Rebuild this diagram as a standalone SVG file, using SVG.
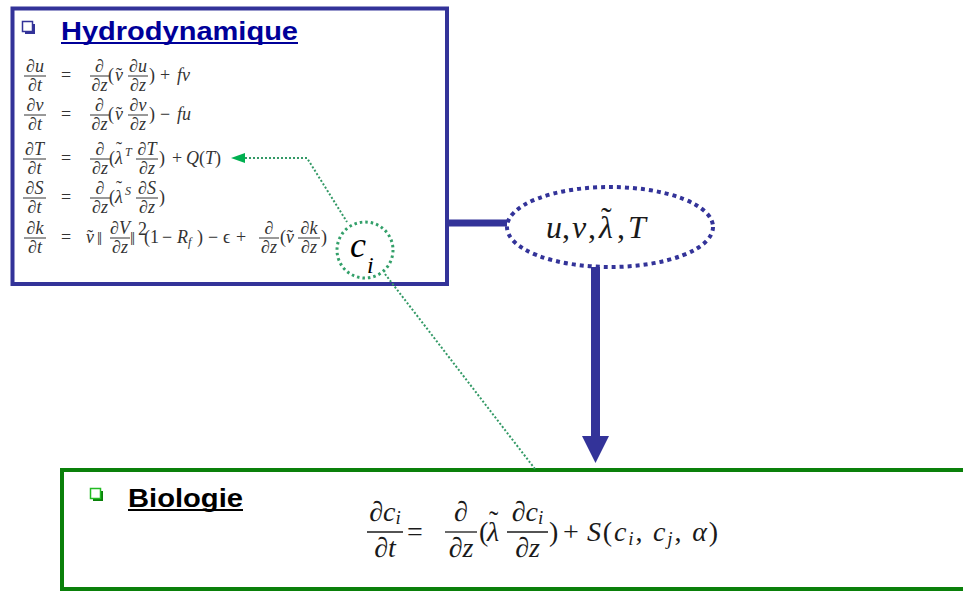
<svg xmlns="http://www.w3.org/2000/svg" width="963" height="592" viewBox="0 0 963 592">
<style>
.m{font-family:"Liberation Serif","DejaVu Serif",serif;font-size:18px;fill:#333}
.b{font-family:"Liberation Serif","DejaVu Serif",serif;font-size:28px;fill:#1a1a1a}
.e{font-family:"Liberation Serif","DejaVu Serif",serif;font-size:32px;fill:#1a1a1a}
.i{font-style:italic}
.c{text-anchor:middle}
.s{font-size:12px}
.bar{stroke:#333;stroke-width:1}
.bbar{stroke:#1a1a1a;stroke-width:1.3}
.title{font-family:"Liberation Sans",Arial,sans-serif;font-weight:bold}
.dot{fill:none;stroke:#339966;stroke-width:2;stroke-dasharray:2 2}
</style>
<rect width="963" height="592" fill="#fff"/>

<g id="hydrodynamique">
<rect x="12.5" y="8.5" width="434.5" height="275.5" fill="#fff" stroke="#333399" stroke-width="4"/>
<rect x="25" y="24" width="10" height="10" fill="#333399"/>
<rect x="22.5" y="21.5" width="10" height="10" fill="#fff" stroke="#333399" stroke-width="1.5"/>
<text x="61" y="40" class="title" font-size="26" fill="#000099" textLength="237" lengthAdjust="spacingAndGlyphs">Hydrodynamique</text>
<rect x="61" y="42" width="237" height="2" fill="#000099"/>

<!-- row 1 -->
<g>
<line class="bar" x1="24" y1="76" x2="46" y2="76"/>
<text class="m c" x="35" y="72">∂<tspan class="i">u</tspan></text>
<text class="m c" x="35" y="91">∂<tspan class="i">t</tspan></text>
<text class="m c" x="66" y="81">=</text>
<line class="bar" x1="90" y1="76" x2="109" y2="76"/>
<text class="m c" x="99.5" y="72">∂</text>
<text class="m c" x="99.5" y="91">∂<tspan class="i">z</tspan></text>
<text class="m" x="108" y="81">(</text>
<text class="m i" x="115" y="81">v</text>
<text class="m" x="116" y="81">˜</text>
<line class="bar" x1="128" y1="76" x2="148" y2="76"/>
<text class="m c" x="138" y="72">∂<tspan class="i">u</tspan></text>
<text class="m c" x="138" y="91">∂<tspan class="i">z</tspan></text>
<text class="m" x="149" y="81">)</text>
<text class="m c" x="165" y="81">+</text>
<text class="m i" x="177" y="81">fv</text>
</g>

<!-- row 2 -->
<g>
<line class="bar" x1="24" y1="115" x2="46" y2="115"/>
<text class="m c" x="35" y="111">∂<tspan class="i">v</tspan></text>
<text class="m c" x="35" y="130">∂<tspan class="i">t</tspan></text>
<text class="m c" x="66" y="120">=</text>
<line class="bar" x1="90" y1="115" x2="109" y2="115"/>
<text class="m c" x="99.5" y="111">∂</text>
<text class="m c" x="99.5" y="130">∂<tspan class="i">z</tspan></text>
<text class="m" x="108" y="120">(</text>
<text class="m i" x="115" y="120">v</text>
<text class="m" x="116" y="120">˜</text>
<line class="bar" x1="128" y1="115" x2="148" y2="115"/>
<text class="m c" x="138" y="111">∂<tspan class="i">v</tspan></text>
<text class="m c" x="138" y="130">∂<tspan class="i">z</tspan></text>
<text class="m" x="149" y="120">)</text>
<text class="m c" x="165" y="120">−</text>
<text class="m i" x="177" y="120">fu</text>
</g>

<!-- row 3 -->
<g>
<line class="bar" x1="23" y1="159" x2="46" y2="159"/>
<text class="m c" x="34.5" y="155">∂<tspan class="i">T</tspan></text>
<text class="m c" x="34.5" y="174">∂<tspan class="i">t</tspan></text>
<text class="m c" x="66" y="164">=</text>
<line class="bar" x1="90" y1="159" x2="110" y2="159"/>
<text class="m c" x="100" y="155">∂</text>
<text class="m c" x="100" y="174">∂<tspan class="i">z</tspan></text>
<text class="m" x="109" y="164">(</text>
<text class="m i" x="115" y="164">λ</text>
<text class="m" x="116" y="155">˜</text>
<text class="m i s" x="125" y="156">T</text>
<line class="bar" x1="136" y1="159" x2="158" y2="159"/>
<text class="m c" x="147" y="155">∂<tspan class="i">T</tspan></text>
<text class="m c" x="147" y="174">∂<tspan class="i">z</tspan></text>
<text class="m" x="159" y="164">)</text>
<text class="m c" x="177" y="164">+</text>
<text class="m" x="186" y="164"><tspan class="i">Q</tspan>(<tspan class="i">T</tspan>)</text>
</g>

<!-- row 4 -->
<g>
<line class="bar" x1="23" y1="198" x2="46" y2="198"/>
<text class="m c" x="34.5" y="194">∂<tspan class="i">S</tspan></text>
<text class="m c" x="34.5" y="213">∂<tspan class="i">t</tspan></text>
<text class="m c" x="66" y="203">=</text>
<line class="bar" x1="90" y1="198" x2="110" y2="198"/>
<text class="m c" x="100" y="194">∂</text>
<text class="m c" x="100" y="213">∂<tspan class="i">z</tspan></text>
<text class="m" x="109" y="203">(</text>
<text class="m i" x="115" y="203">λ</text>
<text class="m" x="116" y="194">˜</text>
<text class="m i s" x="125" y="195">S</text>
<line class="bar" x1="136" y1="198" x2="158" y2="198"/>
<text class="m c" x="147" y="194">∂<tspan class="i">S</tspan></text>
<text class="m c" x="147" y="213">∂<tspan class="i">z</tspan></text>
<text class="m" x="159" y="203">)</text>
</g>

<!-- row 5 -->
<g>
<line class="bar" x1="24" y1="238" x2="46" y2="238"/>
<text class="m c" x="35" y="234">∂<tspan class="i">k</tspan></text>
<text class="m c" x="35" y="253">∂<tspan class="i">t</tspan></text>
<text class="m c" x="66" y="243">=</text>
<text class="m i" x="86" y="243">v</text>
<text class="m" x="87" y="243">˜</text>
<text class="m" x="97" y="245" font-size="22">‖</text>
<line class="bar" x1="110" y1="238" x2="130" y2="238"/>
<text class="m c" x="120" y="234">∂<tspan class="i">V</tspan></text>
<text class="m c" x="120" y="253">∂<tspan class="i">z</tspan></text>
<text class="m" x="130" y="245" font-size="22">‖</text>
<text class="m" x="138" y="235" font-size="10">2</text>
<text class="m" x="144" y="243">(1</text>
<text class="m c" x="167" y="243">−</text>
<text class="m" x="177" y="243"><tspan class="i">R</tspan><tspan class="i s" dy="3">f</tspan></text>
<text class="m" x="197" y="243">)</text>
<text class="m c" x="213" y="243">−</text>
<text class="m" x="223" y="243">ϵ</text>
<text class="m c" x="241" y="243">+</text>
<line class="bar" x1="259" y1="238" x2="279" y2="238"/>
<text class="m c" x="269" y="234">∂</text>
<text class="m c" x="269" y="253">∂<tspan class="i">z</tspan></text>
<text class="m" x="280" y="243">(</text>
<text class="m i" x="286" y="243">v</text>
<text class="m" x="287" y="243">˜</text>
<line class="bar" x1="298" y1="238" x2="320" y2="238"/>
<text class="m c" x="309" y="234">∂<tspan class="i">k</tspan></text>
<text class="m c" x="309" y="253">∂<tspan class="i">z</tspan></text>
<text class="m" x="321" y="243">)</text>
</g>
</g>

<g id="variables">
<ellipse cx="610" cy="227" rx="103" ry="40" fill="#fff" stroke="#333399" stroke-width="4" stroke-dasharray="4 4"/>
<text class="e i" x="546" y="238">u</text>
<text class="e" x="562" y="238">,</text>
<text class="e i" x="572" y="238">v</text>
<text class="e" x="588" y="238">,</text>
<text class="e i" x="599" y="238">λ</text>
<text class="e" x="601" y="229">˜</text>
<text class="e" x="617" y="238">,</text>
<text class="e i" x="628" y="238">T</text>
</g>

<g id="ci">
<circle cx="365" cy="250" r="28" fill="#fff" stroke="#33a06a" stroke-width="3" stroke-dasharray="2.5 3"/>
<text x="350" y="257" font-family="Liberation Serif, serif" font-style="italic" font-size="36" fill="#000">c</text>
<text x="367" y="273" font-family="Liberation Serif, serif" font-style="italic" font-size="24" fill="#000">i</text>
</g>

<g id="biologie">
<rect x="62" y="470" width="960" height="119" fill="none" stroke="#0a800a" stroke-width="4"/>
<rect x="93" y="491" width="10" height="10" fill="#0a800a"/>
<rect x="90.5" y="488.5" width="10" height="10" fill="#fff" stroke="#22bb22" stroke-width="1.5"/>
<text x="128" y="507" class="title" font-size="25" fill="#000" textLength="115" lengthAdjust="spacingAndGlyphs">Biologie</text>
<rect x="128" y="509" width="115" height="2" fill="#000"/>

<line class="bbar" x1="367" y1="532" x2="403" y2="532"/>
<text class="b c" x="385" y="521">∂<tspan class="i">c</tspan><tspan class="i" font-size="19" dy="3">i</tspan></text>
<text class="b c" x="385" y="557">∂<tspan class="i">t</tspan></text>
<text class="b c" x="415" y="541">=</text>
<line class="bbar" x1="445" y1="532" x2="477" y2="532"/>
<text class="b c" x="461" y="521">∂</text>
<text class="b c" x="461" y="557">∂<tspan class="i">z</tspan></text>
<text class="b" x="479" y="541">(</text>
<text class="b i" x="487" y="541">λ</text>
<text class="b" x="489" y="530">˜</text>
<line class="bbar" x1="507" y1="532" x2="548" y2="532"/>
<text class="b c" x="527.5" y="521">∂<tspan class="i">c</tspan><tspan class="i" font-size="19" dy="3">i</tspan></text>
<text class="b c" x="527.5" y="557">∂<tspan class="i">z</tspan></text>
<text class="b" x="549" y="541">)</text>
<text class="b c" x="571" y="541">+</text>
<text class="b" x="587" y="541" textLength="131" lengthAdjust="spacing"><tspan class="i">S</tspan>(<tspan class="i">c</tspan><tspan class="i" font-size="19" dy="4">i</tspan><tspan dy="-4">, </tspan><tspan class="i">c</tspan><tspan class="i" font-size="19" dy="4">j</tspan><tspan dy="-4">, </tspan><tspan class="i">α</tspan>)</text>
</g>

<g id="connectors">
<rect x="449" y="219.5" width="58" height="7" fill="#333399"/>
<rect x="591" y="267" width="9" height="170" fill="#333399"/>
<polygon points="582,436 609,436 595.5,463" fill="#333399"/>
<path class="dot" d="M245,158 H307 L347,222"/>
<path class="dot" d="M385,274 L535,469"/>
<polygon points="231,158 245,153 245,163" fill="#00b050"/>
</g>
</svg>
